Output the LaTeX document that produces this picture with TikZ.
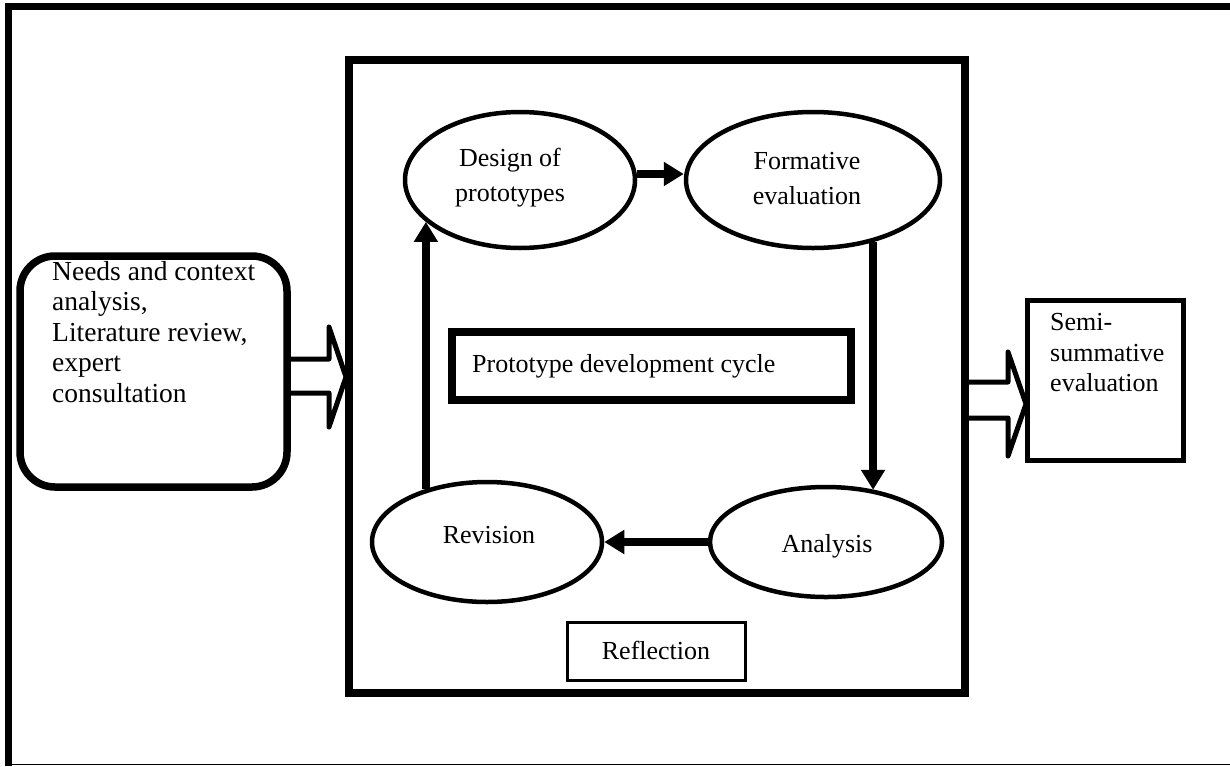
\documentclass[tikz,border=0pt]{standalone}
\usepackage{fontspec}
\setmainfont{Liberation Serif}
\usetikzlibrary{arrows.meta,shapes.geometric}
\begin{document}
\begin{tikzpicture}[x=1pt,y=-1pt,
  txt/.style={font=\fontsize{26}{30.5}\selectfont, inner sep=0pt, align=left},
  ctxt/.style={font=\fontsize{26}{35}\selectfont, inner sep=0pt, align=center},
  oval/.style={ellipse, draw, line width=4.5pt, inner sep=0pt},
  frame/.style={draw, inner sep=0pt},
  arr/.style={line width=8pt, -{Triangle[length=20pt,width=23pt]}},
  dblarrow/.style={draw, line width=5pt, line join=round, fill=white},
]
\useasboundingbox (0,0) rectangle (1230,766);
% outer frame
\draw[line width=7pt] (8.5,766) -- (8.5,6.5) -- (1230,6.5);
\draw[line width=1.2pt] (5,764.5) -- (1230,764.5);
% double arrows (drawn under the boxes)
\draw[dblarrow] (287,359) -- (329,359) -- (329,327) -- (346,377) -- (329,427) -- (329,393) -- (287,393);
\draw[dblarrow] (965,382) -- (1008,382) -- (1008,352) -- (1026,404) -- (1008,456) -- (1008,418) -- (965,418);
% boxes
\node[frame, line width=7.5pt, minimum width=616pt, minimum height=633pt] (bigbox) at (657,376.5) {};
\node[frame, line width=7.5pt, rounded corners=35pt, minimum width=267pt, minimum height=231pt] (needs) at (153.5,371.5) {};
\node[frame, line width=5pt, minimum width=156pt, minimum height=160pt] (semi) at (1105,380) {};
\node[frame, line width=8pt, minimum width=399pt, minimum height=68pt] (proto) at (651.5,366) {};
\node[frame, line width=3pt, minimum width=178pt, minimum height=58pt] (refl) at (656,651) {};
% ellipses
\node[oval, minimum width=230pt, minimum height=136pt] (design) at (520,180) {};
\node[oval, minimum width=254pt, minimum height=136pt] (formative) at (813,180) {};
\node[oval, minimum width=230pt, minimum height=120pt] (revision) at (487,542) {};
\node[oval, minimum width=232pt, minimum height=110pt] (analysis) at (826,542) {};
% arrows
\draw[arr] ([yshift=6pt]design.east) -- ([yshift=6pt]formative.west);
\draw[arr] (formative.-46) -- (formative.-46 |- analysis.47);
\draw[arr] (analysis.west) -- (analysis.west -| revision.east);
\draw[arr] (revision.139) -- (revision.139 |- design.-156);
% texts
\node[ctxt] (designtxt) at (510,178) {Design of\\prototypes};
\node[ctxt] (formtxt) at (807,179) {Formative\\evaluation};
\node[ctxt] (revtxt) at (489,535) {Revision};
\node[ctxt] (anatxt) at (827,546) {Analysis};
\node[txt, anchor=west] (protxt) at (472,366) {Prototype development cycle};
\node[ctxt] (refltxt) at (656,650) {Reflection};
\node[txt, anchor=west, font=\fontsize{27.5}{30.5}\selectfont] (needstxt) at (52,332) {Needs and context\\analysis,\\Literature review,\\expert\\consultation};
\node[txt, anchor=west] (semitxt) at (1050,353) {Semi-\\summative\\evaluation};
\end{tikzpicture}
\end{document}
